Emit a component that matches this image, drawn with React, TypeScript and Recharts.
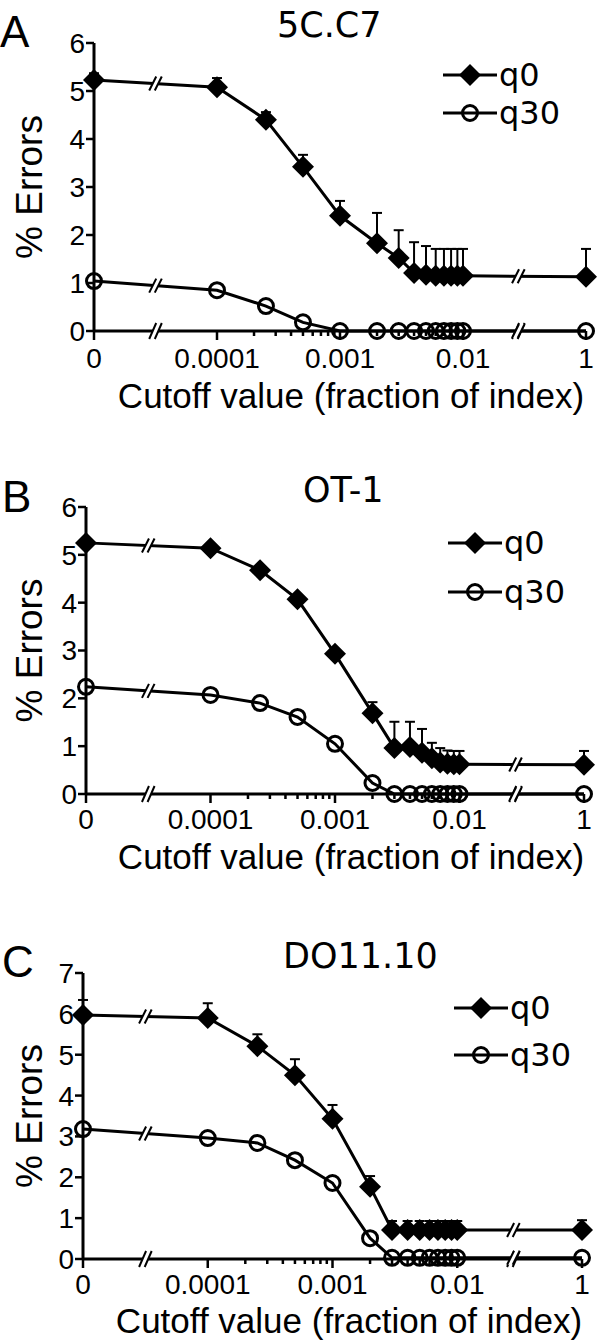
import React from 'react';
import { LineChart, Line, XAxis, YAxis, ErrorBar, ReferenceDot, Legend, Label } from 'recharts';

// ---- data ----
const cutoffs = [0, 0.0001, 0.00025, 0.0005, 0.001, 0.002, 0.003, 0.004, 0.005, 0.006, 0.007, 0.008, 0.009, 0.01, 1];

const aQ0 = [5.23, 5.08, 4.4, 3.42, 2.4, 1.83, 1.52, 1.21, 1.17, 1.15, 1.15, 1.15, 1.15, 1.15, 1.13];
const aQ0Err = [0.14, 0.19, 0.16, 0.25, 0.31, 0.63, 0.58, 0.64, 0.6, 0.56, 0.56, 0.56, 0.56, 0.56, 0.58];
const aQ30 = [1.04, 0.85, 0.52, 0.18, 0, 0, 0, 0, 0, 0, 0, 0, 0, 0, 0];

const bQ0 = [5.25, 5.14, 4.68, 4.07, 2.93, 1.69, 0.96, 0.98, 0.86, 0.75, 0.66, 0.63, 0.62, 0.62, 0.61];
const bQ0Err = [0.06, 0.06, 0.06, 0.06, 0.08, 0.23, 0.55, 0.53, 0.5, 0.32, 0.3, 0.28, 0.28, 0.28, 0.29];
const bQ30 = [2.24, 2.07, 1.9, 1.61, 1.05, 0.23, 0, 0, 0, 0, 0, 0, 0, 0, 0];

const cQ0 = [5.97, 5.9, 5.21, 4.5, 3.43, 1.77, 0.71, 0.71, 0.71, 0.71, 0.71, 0.71, 0.71, 0.71, 0.71];
const cQ0Err = [0.37, 0.36, 0.29, 0.39, 0.34, 0.26, 0.22, 0.22, 0.22, 0.22, 0.22, 0.22, 0.22, 0.22, 0.24];
const cQ30 = [3.18, 2.96, 2.84, 2.42, 1.86, 0.51, 0.03, 0.03, 0.03, 0.03, 0.03, 0.03, 0.03, 0.03, 0.03];

const xTickValues = [0, 0.0001, 0.001, 0.01, 1];
const xTickLabels = ['0', '0.0001', '0.001', '0.01', '1'];
const minorMultipliers = [2, 3, 4, 5, 6, 7, 8, 9];
const minorDecades = [0.0001, 0.001];

const seriesNames = ['q0', 'q30'];
const panelTitles = ['5C.C7', 'OT-1', 'DO11.10'];
const panelLetters = ['A', 'B', 'C'];
const yLabel = '% Errors';
const xLabel = 'Cutoff value (fraction of index)';

// ---- axis mapping (broken log axis) ----
const ZERO_POS = -5;
const ONE_POS = -1;
const LEFT_BREAK = -4.5;
const RIGHT_BREAK = -1.55;
const toPos = (c: number) => (c === 0 ? ZERO_POS : c === 1 ? ONE_POS : Math.log10(c));

const majorPositions = xTickValues.map(toPos);
const minorPositions: number[] = [];
minorDecades.forEach((d) => minorMultipliers.forEach((m) => minorPositions.push(Math.log10(d * m))));
const allTicks = [...majorPositions, ...minorPositions].sort((a, b) => a - b);

const AXIS_FONT = '"Liberation Sans", Arial, sans-serif';
const TITLE_FONT = '"DejaVu Sans", sans-serif';
const LW = 3;

function buildRows(q0: number[], err: number[], q30: number[]) {
  return cutoffs.map((c, i) => ({ pos: toPos(c), q0: q0[i], q0err: [0, err[i]], q30: q30[i] }));
}

function interpAt(values: number[], p: number) {
  const ps = cutoffs.map(toPos);
  for (let i = 0; i < ps.length - 1; i++) {
    if (ps[i] <= p && p <= ps[i + 1]) {
      const t = (p - ps[i]) / (ps[i + 1] - ps[i]);
      return values[i] + t * (values[i + 1] - values[i]);
    }
  }
  return values[0];
}

const BreakMark = ({ cx, cy, h = 7 }: any) => {
  const s = 3.5;
  const g = 2.8;
  return (
    <g>
      <polygon
        points={`${cx - g - s},${cy + h} ${cx - g + s},${cy - h} ${cx + g + s},${cy - h} ${cx + g - s},${cy + h}`}
        fill="#fff"
      />
      <line x1={cx - g - s} y1={cy + h} x2={cx - g + s} y2={cy - h} stroke="#000" strokeWidth={2} />
      <line x1={cx + g - s} y1={cy + h} x2={cx + g + s} y2={cy - h} stroke="#000" strokeWidth={2} />
    </g>
  );
};

const diamondPath = (cx: number, cy: number, r: number) =>
  `M${cx},${cy - r} L${cx + r},${cy} L${cx},${cy + r} L${cx - r},${cy} Z`;

const DiamondDot = (p: any) => {
  if (p.cx == null || p.cy == null) return <g key={`dd-${p.index}`} />;
  return <path key={`dd-${p.index}`} d={diamondPath(p.cx, p.cy, 11)} fill="#000" />;
};

const CircleDot = (p: any) => {
  if (p.cx == null || p.cy == null) return <g key={`cd-${p.index}`} />;
  return <circle key={`cd-${p.index}`} cx={p.cx} cy={p.cy} r={7.5} fill="none" stroke="#000" strokeWidth={3} />;
};

const makeXTick = (labelOffset: number) => (props: any) => {
  const { x, y, payload } = props;
  const axisY = y - 8;
  const idx = majorPositions.findIndex((m) => Math.abs(m - payload.value) < 1e-9);
  const major = idx >= 0;
  return (
    <g>
      <line x1={x} x2={x} y1={axisY} y2={axisY + (major ? 9 : 5)} stroke="#000" strokeWidth={2.5} />
      {major && (
        <text x={x} y={axisY + labelOffset} textAnchor="middle" fontSize={28} fontFamily={AXIS_FONT} fill="#000">
          {xTickLabels[idx]}
        </text>
      )}
    </g>
  );
};

const makeLegend = (rowYs: number[]) => (props: any) => {
  const payload = props.payload || [];
  return (
    <svg width={160} height={110} style={{ overflow: 'visible' }}>
      {payload.map((entry: any, i: number) => {
        const y = rowYs[i];
        const isQ0 = entry.dataKey === 'q0';
        return (
          <g key={`lg-${i}`}>
            <line x1={0} x2={54} y1={y} y2={y} stroke="#000" strokeWidth={LW} />
            {isQ0 ? (
              <path d={diamondPath(27, y, 11)} fill="#000" />
            ) : (
              <circle cx={27} cy={y} r={7.5} fill="none" stroke="#000" strokeWidth={3} />
            )}
            <text x={56} y={y + 11} fontSize={32} fontFamily={TITLE_FONT} fill="#000">
              {entry.value}
            </text>
          </g>
        );
      })}
    </svg>
  );
};

type PanelCfg = {
  top: number;
  height: number;
  marginTop: number;
  marginRight: number;
  yWidth: number;
  xHeight: number;
  yMax: number;
  tickOffset: number;
  legendLeft: number;
  legendTop: number;
  legendRows: number[];
  xLabelX: number;
  xLabelDy: number;
  q0: number[];
  err: number[];
  q30: number[];
};

const panels: PanelCfg[] = [
  { top: 0, height: 440, marginTop: 43, marginRight: 14, yWidth: 94, xHeight: 109, yMax: 6, tickOffset: 37,
    legendLeft: 443, legendTop: 50, legendRows: [25, 63], xLabelX: 351, xLabelDy: 77, q0: aQ0, err: aQ0Err, q30: aQ30 },
  { top: 440, height: 440, marginTop: 67, marginRight: 16, yWidth: 86, xHeight: 86, yMax: 6, tickOffset: 35,
    legendLeft: 448, legendTop: 78, legendRows: [25, 74], xLabelX: 351, xLabelDy: 75, q0: bQ0, err: bQ0Err, q30: bQ30 },
  { top: 880, height: 464, marginTop: 93, marginRight: 18, yWidth: 83, xHeight: 85, yMax: 7, tickOffset: 35,
    legendLeft: 454, legendTop: 103, legendRows: [25, 72], xLabelX: 349, xLabelDy: 74, q0: cQ0, err: cQ0Err, q30: cQ30 },
];

function Panel({ cfg }: { cfg: PanelCfg }) {
  const rows = buildRows(cfg.q0, cfg.err, cfg.q30);
  const yTicks = Array.from({ length: cfg.yMax + 1 }, (_, i) => i);
  const breaks = [
    { x: LEFT_BREAK, y: 0, h: 8 },
    { x: RIGHT_BREAK, y: 0, h: 8 },
    { x: LEFT_BREAK, y: interpAt(cfg.q0, LEFT_BREAK), h: 7 },
    { x: RIGHT_BREAK, y: interpAt(cfg.q0, RIGHT_BREAK), h: 7 },
    { x: LEFT_BREAK, y: interpAt(cfg.q30, LEFT_BREAK), h: 7 },
    { x: RIGHT_BREAK, y: interpAt(cfg.q30, RIGHT_BREAK), h: 7 },
  ];
  return (
    <div style={{ position: 'absolute', left: 0, top: cfg.top, width: 600, height: cfg.height }}>
      <LineChart
        width={600}
        height={cfg.height}
        data={rows}
        margin={{ top: cfg.marginTop, right: cfg.marginRight, left: 0, bottom: 0 }}
      >
        <XAxis
          type="number"
          dataKey="pos"
          domain={[ZERO_POS, ONE_POS]}
          ticks={allTicks}
          interval={0}
          tick={makeXTick(cfg.tickOffset)}
          tickLine={false}
          tickSize={8}
          tickMargin={0}
          height={cfg.xHeight}
          axisLine={{ stroke: '#000', strokeWidth: LW }}
        >
          <Label
            content={(p: any) => (
              <text x={cfg.xLabelX} y={p.viewBox.y + cfg.xLabelDy} textAnchor="middle" fontSize={35} fontFamily={AXIS_FONT} fill="#000">
                {xLabel}
              </text>
            )}
          />
        </XAxis>
        <YAxis
          type="number"
          domain={[0, cfg.yMax]}
          ticks={yTicks}
          interval={0}
          width={cfg.yWidth}
          tickSize={8}
          tickMargin={1}
          tickLine={{ stroke: '#000', strokeWidth: 2.5 }}
          axisLine={{ stroke: '#000', strokeWidth: LW }}
          tick={{ fill: '#000', fontSize: 28, fontFamily: AXIS_FONT }}
        >
          <Label
            content={(p: any) => {
              const cy = p.viewBox.y + p.viewBox.height / 2;
              return (
                <text x={42} y={cy} transform={`rotate(-90 42 ${cy})`} textAnchor="middle" fontSize={37} fontFamily={AXIS_FONT} fill="#000">
                  {yLabel}
                </text>
              );
            }}
          />
        </YAxis>
        <Line
          type="linear"
          dataKey="q0"
          name={seriesNames[0]}
          stroke="#000"
          strokeWidth={LW}
          dot={DiamondDot}
          activeDot={false}
          isAnimationActive={false}
        >
          <ErrorBar dataKey="q0err" direction="y" width={5} strokeWidth={2} stroke="#000" isAnimationActive={false} />
        </Line>
        <Line
          type="linear"
          dataKey="q30"
          name={seriesNames[1]}
          stroke="#000"
          strokeWidth={LW}
          dot={CircleDot}
          activeDot={false}
          isAnimationActive={false}
        />
        {breaks.map((b, i) => (
          <ReferenceDot
            key={`br-${i}`}
            x={b.x}
            y={b.y}
            r={0}
            ifOverflow="visible"
            shape={(p: any) => <BreakMark cx={p.cx} cy={p.cy} h={b.h} />}
          />
        ))}
        <Legend
          layout="horizontal"
          verticalAlign="middle"
          align="center"
          wrapperStyle={{ left: cfg.legendLeft, top: cfg.legendTop, width: 160, height: 110 }}
          content={makeLegend(cfg.legendRows)}
        />
      </LineChart>
    </div>
  );
}

const titlePos = [
  { x: 277, y: 37 },
  { x: 303, y: 502 },
  { x: 283, y: 968 },
];
const letterPos = [
  { x: 0, y: 47 },
  { x: 2, y: 512 },
  { x: 2, y: 977 },
];

export default function App() {
  return (
    <div style={{ position: 'absolute', left: 0, top: 0, width: 600, height: 1344, background: '#fff', overflow: 'hidden' }}>
      {panels.map((p, i) => (
        <Panel key={i} cfg={p} />
      ))}
      <svg width={600} height={1344} style={{ position: 'absolute', left: 0, top: 0, pointerEvents: 'none' }}>
        {panelTitles.map((t, i) => (
          <text key={`t-${i}`} x={titlePos[i].x} y={titlePos[i].y} fontSize={35} fontFamily={TITLE_FONT} fill="#000">
            {t}
          </text>
        ))}
        {panelLetters.map((t, i) => (
          <text key={`l-${i}`} x={letterPos[i].x} y={letterPos[i].y} fontSize={44} fontFamily={AXIS_FONT} fill="#000">
            {t}
          </text>
        ))}
      </svg>
    </div>
  );
}
